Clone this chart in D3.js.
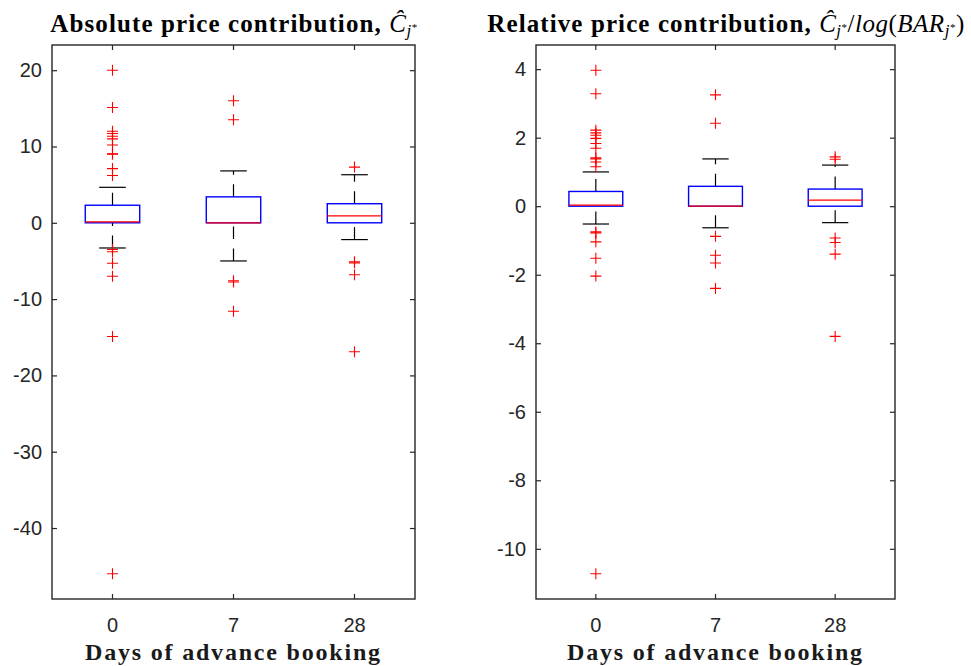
<!DOCTYPE html>
<html>
<head>
<meta charset="utf-8">
<script src="https://d3js.org/d3.v7.min.js"></script>
<style>
  body { margin: 0; background: #fff; }
  svg { display: block; }
</style>
</head>
<body>
<svg id="chart"></svg>
<script>
  const categories = ['0', '7', '28'];

  // absolute price contribution
  const absQ1 = [0, 0, 0];
  const absMedian = [0.12, 0, 0.9];
  const absQ3 = [2.3, 3.4, 2.5];
  const absLower = [-3.3, -5.0, -2.2];
  const absUpper = [4.65, 6.8, 6.3];
  const absOutliers = [
    [20.0, 15.1, 12.0, 11.7, 11.35, 11.0, 10.2, 9.05, 9.0, 7.1, 6.2, -3.5, -3.8, -5.3, -7.0, -14.9, -46.0],
    [16.0, 13.5, -7.6, -7.75, -11.6],
    [7.3, -5.1, -5.25, -6.8, -16.9]
  ];
  const absTicks = [-40, -30, -20, -10, 0, 10, 20];

  // relative price contribution
  const relQ1 = [0, 0, 0];
  const relMedian = [0.03, 0, 0.18];
  const relQ3 = [0.43, 0.58, 0.5];
  const relLower = [-0.52, -0.63, -0.48];
  const relUpper = [1.0, 1.38, 1.2];
  const relOutliers = [
    [3.97, 3.28, 2.22, 2.14, 2.07, 1.98, 1.83, 1.69, 1.41, 1.38, 1.29, 1.15, -0.75, -0.78, -1.04, -1.52, -2.04, -10.73],
    [3.25, 2.42, -0.88, -1.43, -1.66, -2.4],
    [1.44, 1.37, -0.93, -1.06, -1.40, -3.8]
  ];
  const relTicks = [-10, -8, -6, -4, -2, 0, 2, 4];

  const width = 971;
  const height = 666;
  const plotTop = 45;
  const plotBottom = 599;

  const svg = d3.select('#chart')
    .attr('width', width)
    .attr('height', height);

  function drawPanel(left, right, q1, med, q3, lo, hi, outliers, ticks) {
    const g = svg.append('g');

    const allValues = d3.merge(outliers).concat(lo, hi);
    const vmin = d3.min(allValues);
    const vmax = d3.max(allValues);
    const pad = (vmax - vmin) * 0.05;

    const x = d3.scaleBand().domain(categories).range([left, right]);
    const y = d3.scaleLinear().domain([vmin - pad, vmax + pad]).range([plotBottom, plotTop]);

    const boxW = x.bandwidth() * 0.45;
    const capW = x.bandwidth() * 0.22;
    const cx = c => x(c) + x.bandwidth() / 2;

    // axes with inward ticks on all sides
    g.append('g')
      .attr('transform', `translate(${left},0)`)
      .call(d3.axisLeft(y).tickValues(ticks).tickFormat(d => String(d))
        .tickSizeInner(-5).tickSizeOuter(0).tickPadding(10));
    g.append('g')
      .attr('transform', `translate(${right},0)`)
      .call(d3.axisRight(y).tickValues(ticks).tickSizeInner(-5).tickSizeOuter(0).tickFormat(''));
    g.append('g')
      .attr('transform', `translate(0,${plotTop})`)
      .call(d3.axisTop(x).tickSizeInner(-5).tickSizeOuter(0).tickFormat(''));
    g.append('g')
      .attr('transform', `translate(0,${plotBottom})`)
      .call(d3.axisBottom(x).tickSizeInner(-5).tickSizeOuter(0).tickPadding(19));

    g.selectAll('.domain').remove();
    g.selectAll('.tick line').attr('stroke', '#262626').attr('stroke-width', 1.2);
    g.selectAll('.tick text')
      .attr('fill', '#262626')
      .style('font-family', 'Liberation Sans, Arial, sans-serif')
      .style('font-size', '20px');

    g.append('rect')
      .attr('x', left)
      .attr('y', plotTop)
      .attr('width', right - left)
      .attr('height', plotBottom - plotTop)
      .attr('fill', 'none')
      .attr('stroke', '#262626')
      .attr('stroke-width', 1.4);

    const idx = d3.range(categories.length);

    // whiskers, dashed, drawn upward
    g.selectAll('.whisker-hi')
      .data(idx)
      .enter().append('line')
      .attr('x1', i => cx(categories[i]))
      .attr('x2', i => cx(categories[i]))
      .attr('y1', i => y(q3[i]))
      .attr('y2', i => y(hi[i]))
      .attr('stroke', '#000')
      .attr('stroke-width', 1.2)
      .attr('stroke-dasharray', '12.5,9.5');
    g.selectAll('.whisker-lo')
      .data(idx)
      .enter().append('line')
      .attr('x1', i => cx(categories[i]))
      .attr('x2', i => cx(categories[i]))
      .attr('y1', i => y(lo[i]))
      .attr('y2', i => y(q1[i]))
      .attr('stroke', '#000')
      .attr('stroke-width', 1.2)
      .attr('stroke-dasharray', '12.5,9.5');

    // caps
    [hi, lo].forEach(vals => {
      g.selectAll(null)
        .data(idx)
        .enter().append('line')
        .attr('x1', i => cx(categories[i]) - capW / 2)
        .attr('x2', i => cx(categories[i]) + capW / 2)
        .attr('y1', i => y(vals[i]))
        .attr('y2', i => y(vals[i]))
        .attr('stroke', '#000')
        .attr('stroke-width', 1.2);
    });

    // boxes
    g.selectAll('.box')
      .data(idx)
      .enter().append('rect')
      .attr('x', i => cx(categories[i]) - boxW / 2)
      .attr('y', i => y(q3[i]))
      .attr('width', boxW)
      .attr('height', i => y(q1[i]) - y(q3[i]))
      .attr('fill', 'none')
      .attr('stroke', '#0000ff')
      .attr('stroke-width', 1.4);

    // medians
    g.selectAll('.median')
      .data(idx)
      .enter().append('line')
      .attr('x1', i => cx(categories[i]) - boxW / 2)
      .attr('x2', i => cx(categories[i]) + boxW / 2)
      .attr('y1', i => y(med[i]))
      .attr('y2', i => y(med[i]))
      .attr('stroke', '#ff0000')
      .attr('stroke-width', 1.2);

    // outliers as '+'
    const pts = [];
    outliers.forEach((arr, i) => arr.forEach(v => pts.push({ c: categories[i], v: v })));
    g.selectAll('.outlier')
      .data(pts)
      .enter().append('path')
      .attr('d', d => {
        const px = cx(d.c), py = y(d.v);
        return `M${px - 5.5},${py}H${px + 5.5}M${px},${py - 5.5}V${py + 5.5}`;
      })
      .attr('stroke', '#ff0000')
      .attr('stroke-width', 1.1)
      .attr('fill', 'none');

    // x label
    g.append('text')
      .attr('x', (left + right) / 2)
      .attr('y', 660)
      .attr('text-anchor', 'middle')
      .style('font-family', 'Liberation Serif, Times New Roman, serif')
      .style('font-weight', 'bold')
      .style('font-size', '24px')
      .style('letter-spacing', '1.8px')
      .attr('fill', '#1a1a1a')
      .text('Days of advance booking');

    return g;
  }

  function titleText(g, cx, parts) {
    const t = g.append('text')
      .attr('x', cx)
      .attr('y', 32)
      .attr('text-anchor', 'middle')
      .attr('fill', '#000')
      .style('font-family', 'Liberation Serif, Times New Roman, serif')
      .style('font-size', '25px');
    parts.forEach(p => {
      t.append('tspan')
        .attr('dy', p.dy || 0)
        .style('font-weight', p.bold ? 'bold' : 'normal')
        .style('font-style', p.italic ? 'italic' : 'normal')
        .style('letter-spacing', p.bold ? '1.1px' : '0.5px')
        .style('font-size', p.size || '25px')
        .text(p.t);
    });
  }

  const gAbs = drawPanel(52, 415, absQ1, absMedian, absQ3, absLower, absUpper, absOutliers, absTicks);
  const gRel = drawPanel(536, 895, relQ1, relMedian, relQ3, relLower, relUpper, relOutliers, relTicks);

  titleText(gAbs, 234, [
    { t: 'Absolute price contribution, ', bold: true },
    { t: 'Ĉ', italic: true },
    { t: 'j', italic: true, size: '17px', dy: 4 },
    { t: '*', size: '11px', dy: -5 }
  ]);
  titleText(gRel, 726, [
    { t: 'Relative price contribution, ', bold: true },
    { t: 'Ĉ', italic: true },
    { t: 'j', italic: true, size: '17px', dy: 4 },
    { t: '*', size: '11px', dy: -5 },
    { t: '/', dy: 1 },
    { t: 'log', italic: true },
    { t: '(' },
    { t: 'BAR', italic: true },
    { t: 'j', italic: true, size: '17px', dy: 4 },
    { t: '*', size: '11px', dy: -5 },
    { t: ')', dy: 1 }
  ]);
</script>
</body>
</html>
